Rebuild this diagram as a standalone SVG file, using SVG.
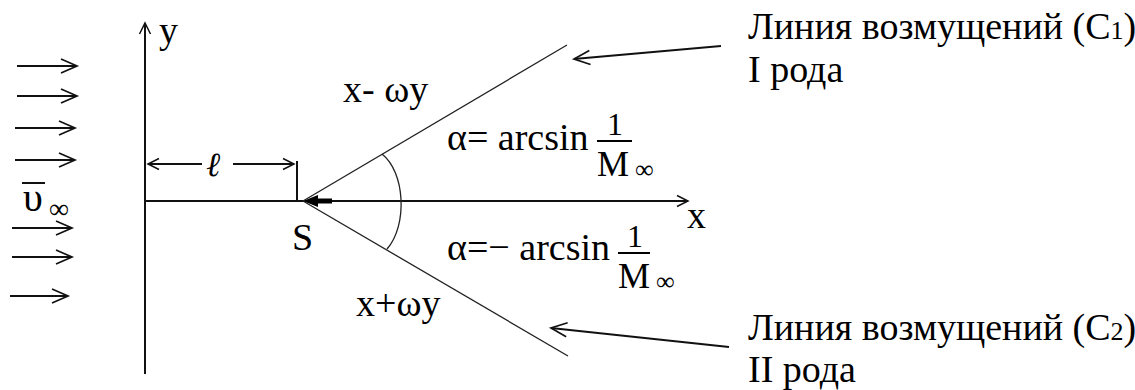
<svg xmlns="http://www.w3.org/2000/svg" width="1135" height="390" viewBox="0 0 1135 390">
<defs>
<style>
text{font-family:"Liberation Serif","DejaVu Serif",serif;fill:#000}
.t{font-size:38px}
.m{font-size:38px}
.ax{stroke:#111;stroke-width:2;fill:none}
.flow{stroke:#111;stroke-width:2;fill:none;marker-end:url(#open)}
.lead{stroke:#111;stroke-width:2;fill:none;marker-end:url(#open)}
.thin{stroke:#222;stroke-width:1.3;fill:none}
.dim{stroke:#111;stroke-width:1.8;fill:none}
</style>
<marker id="open" markerWidth="22" markerHeight="18" refX="18" refY="8" orient="auto" markerUnits="userSpaceOnUse">
<path d="M2,1 L18,8 L2,15" fill="none" stroke="#111" stroke-width="1.7"/>
</marker>
<marker id="small" markerWidth="16" markerHeight="14" refX="13" refY="7" orient="auto" markerUnits="userSpaceOnUse">
<path d="M2,1.5 L13,7 L2,12.5" fill="none" stroke="#111" stroke-width="1.5"/>
</marker>
</defs>
<rect width="1135" height="390" fill="#fff"/>

<g id="flow">
<line class="flow" x1="17" y1="66" x2="77" y2="66"/>
<line class="flow" x1="17" y1="96" x2="77" y2="96"/>
<line class="flow" x1="15" y1="128" x2="75" y2="128"/>
<line class="flow" x1="15" y1="160" x2="75" y2="160"/>
<line class="flow" x1="12" y1="228" x2="72" y2="228"/>
<line class="flow" x1="12" y1="257" x2="72" y2="257"/>
<line class="flow" x1="10" y1="296" x2="68" y2="296"/>
</g>

<g id="v-inf">
<line x1="22" y1="183" x2="45" y2="183" stroke="#111" stroke-width="2"/>
<text x="23" y="211" style="font-size:40px">υ</text>
<text x="49" y="218" style="font-size:28px">∞</text>
</g>

<g id="y-axis">
<line class="ax" x1="145" y1="374" x2="145" y2="23" marker-end="url(#small)"/>
<text class="m" x="159" y="43">y</text>
</g>

<g id="x-axis">
<line class="ax" x1="145" y1="201" x2="688" y2="201" marker-end="url(#small)"/>
<text class="m" x="687" y="228">x</text>
</g>

<g id="length">
<line class="dim" x1="202" y1="164" x2="148" y2="164" marker-end="url(#small)"/>
<line class="dim" x1="233" y1="164" x2="294" y2="164" marker-end="url(#small)"/>
<line class="ax" x1="297" y1="161" x2="297" y2="201"/>
<text x="206" y="176" style="font-size:34px;font-style:italic">ℓ</text>
</g>

<g id="S">
<line x1="332" y1="201" x2="316" y2="201" stroke="#000" stroke-width="5"/>
<path d="M303,201 L318,195 L318,207 Z" fill="#000"/>
<text class="m" x="292" y="250">S</text>
</g>

<g id="connectors">
<line class="thin" x1="303" y1="201" x2="567" y2="45"/>
<line class="thin" x1="303" y1="201" x2="568" y2="356"/>
<path class="thin" d="M382,154 C405,172 408,225 387,249"/>
<line class="lead" x1="721" y1="46" x2="574" y2="59"/>
<line class="lead" x1="729" y1="347" x2="551" y2="328"/>
</g>

<g id="label-upper-line">
<text class="m" x="343" y="102">x- ωy</text>
</g>
<g id="label-lower-line">
<text class="m" x="356" y="316">x+ωy</text>
</g>

<g id="alpha-upper">
<text class="m" x="447" y="150">α= arcsin</text>
<text x="615" y="135" text-anchor="middle" style="font-size:32px">1</text>
<line x1="597" y1="141" x2="632" y2="141" stroke="#000" stroke-width="2"/>
<text x="597" y="176" style="font-size:36px">M</text>
<text x="635" y="178" style="font-size:26px">∞</text>
</g>

<g id="alpha-lower">
<text class="m" x="447" y="260">α=− arcsin</text>
<text x="635" y="247" text-anchor="middle" style="font-size:32px">1</text>
<line x1="618" y1="253" x2="650" y2="253" stroke="#000" stroke-width="2"/>
<text x="618" y="288" style="font-size:36px">M</text>
<text x="656" y="290" style="font-size:26px">∞</text>
</g>

<g id="C1-label">
<text class="t" x="748" y="39">Линия возмущений (С<tspan style="font-size:26px">1</tspan>)</text>
<text class="t" x="748" y="82">I рода</text>
</g>

<g id="C2-label">
<text class="t" x="748" y="340">Линия возмущений (С<tspan style="font-size:26px">2</tspan>)</text>
<text class="t" x="748" y="382">II рода</text>
</g>
</svg>
